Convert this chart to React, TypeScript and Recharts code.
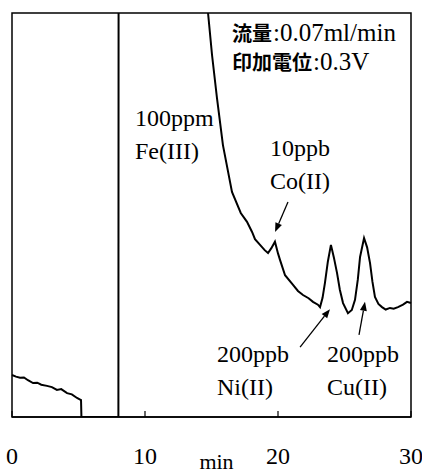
import { LineChart, Line, XAxis, YAxis, ReferenceArea, ReferenceLine, ReferenceDot } from "recharts";

// Chromatogram trace: time (min) and detector signal (0-100 = full scale of the plot)
const TIME_MIN = [
  0, 0.3, 0.6, 0.9, 1.2, 1.58, 1.9, 2.2, 2.63, 3.0, 3.38, 3.7, 4.14, 4.5, 4.89, 5.19, 5.22,
  8.0, 8.02, 13.3,
  14.74, 15.04, 15.41, 15.86, 16.54, 17.2, 17.67, 18.05, 18.27, 18.65, 19.0, 19.25, 19.5, 19.77,
  20.0, 20.15, 20.53, 21.13, 21.5, 21.88, 22.3, 22.63, 23.0, 23.16, 23.35, 23.53, 23.75, 23.98,
  24.2, 24.44, 24.65, 24.89, 25.26, 25.55, 25.79, 26.0, 26.17, 26.47, 26.7, 26.92, 27.1, 27.29,
  27.55, 27.82, 28.1, 28.42, 28.7, 29.02, 29.4, 29.7, 30.0,
];
const SIGNAL = [
  10.4, 10.0, 9.7, 9.8, 9.1, 8.4, 8.5, 8.0, 7.7, 7.4, 6.7, 6.9, 5.9, 5.6, 4.7, 4.2, 0,
  0, 150, 150,
  100, 89.6, 79.0, 67.3, 55.7, 50.5, 48.3, 45.8, 44.0, 42.6, 41.3, 40.6, 41.8, 43.4,
  40.5, 38.9, 35.1, 32.7, 31.2, 30.2, 29.4, 28.5, 27.8, 27.2, 29.5, 33.2, 38.5, 42.6,
  39.5, 35.6, 31.5, 28.2, 25.7, 26.5, 29.0, 34.0, 39.6, 44.3, 42.0, 38.1, 33.5, 29.7,
  28.0, 27.2, 26.6, 27.0, 26.8, 27.2, 27.8, 28.5, 28.2,
];
const X_TICKS = [0, 10, 20, 30];

// Peak labels and the point where each is anchored (data coords)
const PEAK_LABELS = [
  { lines: ["100ppm", "Fe(III)"], t: 9.25, v: 72.0 },
  { lines: ["10ppb", "Co(II)"], t: 19.4, v: 64.5 },
  { lines: ["200ppb", "Ni(II)"], t: 15.41, v: 13.7 },
  { lines: ["200ppb", "Cu(II)"], t: 23.69, v: 13.7 },
];
const ARROWS = [
  { from: { t: 20.75, v: 53.2 }, to: { t: 19.78, v: 45.8 } },
  { from: { t: 21.66, v: 17.3 }, to: { t: 23.91, v: 26.7 } },
  { from: { t: 26.09, v: 20.3 }, to: { t: 26.54, v: 28.5 } },
];
const CONDITIONS = [
  { cjk: "流量", rest: ":0.07ml/min" },
  { cjk: "印加電位", rest: ":0.3V" },
];

const SERIF = '"Liberation Serif", "Times New Roman", serif';
const CJK = '"Noto Sans CJK JP", sans-serif';

const data = TIME_MIN.map((t, i) => ({ t, v: SIGNAL[i] }));

/** Arrow drawn on a reference segment, head at the second point. */
function Arrow(props: any) {
  const { x1, y1, x2, y2 } = props;
  const a = Math.atan2(y2 - y1, x2 - x1);
  const len = 9;
  const half = 3.5;
  const bx = x2 - len * Math.cos(a);
  const by = y2 - len * Math.sin(a);
  const pts = [
    [x2, y2],
    [bx + half * Math.sin(a), by - half * Math.cos(a)],
    [bx - half * Math.sin(a), by + half * Math.cos(a)],
  ]
    .map((p) => p.join(","))
    .join(" ");
  return (
    <g>
      <line x1={x1} y1={y1} x2={bx} y2={by} stroke="#000" strokeWidth={1.3} />
      <polygon points={pts} fill="#000" />
    </g>
  );
}

function multiLine(lines: string[]) {
  return (p: any) => {
    const { x, y } = p.viewBox;
    return (
      <text x={x} y={y} fontFamily={SERIF} fontSize={24} fill="#000">
        {lines.map((l, i) => (
          <tspan key={i} x={x} dy={i === 0 ? 0 : 33}>
            {l}
          </tspan>
        ))}
      </text>
    );
  };
}

function conditionText(p: any) {
  const { x, y } = p.viewBox;
  return (
    <text x={x} y={y} fill="#000">
      {CONDITIONS.map((c, i) => (
        <tspan key={i}>
          <tspan x={x} dy={i === 0 ? 0 : 29} fontFamily={CJK} fontWeight={700} fontSize={20}>
            {c.cjk}
          </tspan>
          <tspan fontFamily={SERIF} fontSize={25} dx={1}>
            {c.rest}
          </tspan>
        </tspan>
      ))}
    </text>
  );
}

export default function App() {
  return (
    <div style={{ position: "absolute", left: 0, top: 0, width: 422, height: 475, background: "#fff" }}>
      <LineChart width={422} height={475} data={data} margin={{ top: 13, right: 11, left: 12, bottom: 0 }}>
        <XAxis
          dataKey="t"
          type="number"
          domain={[0, 30]}
          ticks={X_TICKS}
          interval={0}
          height={58}
          tickSize={-6}
          tickMargin={36}
          tickLine={{ stroke: "#000", strokeWidth: 1.2 }}
          axisLine={{ stroke: "#000", strokeWidth: 1.5 }}
          tick={{ fontSize: 24, fill: "#000", fontFamily: SERIF }}
          label={(p: any) => (
            <text
              x={p.viewBox.x + p.viewBox.width / 2 + 5}
              y={469}
              textAnchor="middle"
              fontFamily={SERIF}
              fontSize={22}
              fill="#000"
            >
              min
            </text>
          )}
        />
        <YAxis hide type="number" domain={[0, 100]} allowDataOverflow />
        <ReferenceArea x1={0} x2={30} y1={0} y2={100} fill="none" stroke="#000" strokeWidth={1.5} />
        <Line
          dataKey="v"
          type="linear"
          stroke="#000"
          strokeWidth={2}
          dot={false}
          isAnimationActive={false}
        />
        {ARROWS.map((a, i) => (
          <ReferenceLine
            key={i}
            segment={[
              { x: a.from.t, y: a.from.v },
              { x: a.to.t, y: a.to.v },
            ]}
            shape={Arrow}
          />
        ))}
        {PEAK_LABELS.map((l, i) => (
          <ReferenceDot key={i} x={l.t} y={l.v} r={0} fill="none" stroke="none" label={multiLine(l.lines)} />
        ))}
        <ReferenceDot x={16.54} y={93.1} r={0} fill="none" stroke="none" label={conditionText} />
      </LineChart>
    </div>
  );
}
